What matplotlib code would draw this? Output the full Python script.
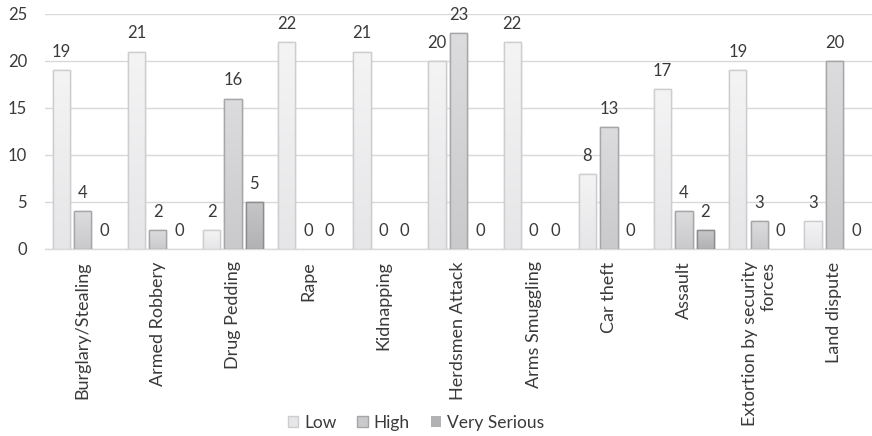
import numpy as np
import matplotlib
matplotlib.use("Agg")
import matplotlib.pyplot as plt
from matplotlib.colors import LinearSegmentedColormap

plt.rcParams['font.family'] = ['Lato', 'DejaVu Sans']

categories = ["Burglary/Stealing", "Armed Robbery", "Drug Pedding", "Rape", "Kidnapping",
              "Herdsmen Attack", "Arms Smuggling", "Car theft", "Assault",
              "Extortion by security\nforces", "Land dispute"]
low = [19, 21, 2, 22, 21, 20, 22, 8, 17, 19, 3]
high = [4, 2, 16, 0, 0, 23, 0, 13, 4, 3, 20]
very_serious = [0, 0, 5, 0, 0, 0, 0, 0, 2, 0, 0]
series_names = ["Low", "High", "Very Serious"]
y_ticks = [0, 5, 10, 15, 20, 25]

# fill (top, bottom) and edge colours per series
styles = [
    (("#f4f4f5", "#e6e6e8"), "#cdcdcf"),
    (("#dcdcde", "#cacacc"), "#a6a6a8"),
    (("#c6c6c8", "#b2b2b4"), "#8c8c8e"),
]
text_color = "#3a3a3a"

fig = plt.figure(figsize=(8.72, 4.36), dpi=100)
ax = fig.add_axes([0.0516, 0.429, 0.9484, 0.539])

x = np.arange(len(categories))
width = 0.23
step = 0.285

all_series = [low, high, very_serious]
handles = []
for i, (vals, name, ((c_top, c_bot), edge)) in enumerate(zip(all_series, series_names, styles)):
    pos = x + (i - 1) * step
    bars = ax.bar(pos, vals, width=width, color=c_bot, edgecolor=edge,
                  linewidth=1.0, zorder=3, label=name)
    cmap = LinearSegmentedColormap.from_list(name, [c_bot, c_top])
    grad = np.linspace(0, 1, 64).reshape(-1, 1)
    for b, v in zip(bars, vals):
        if v == 0:
            b.set_edgecolor('none')
            continue
        bx, by = b.get_x(), b.get_y()
        bw, bh = b.get_width(), b.get_height()
        im = ax.imshow(grad, cmap=cmap, origin='lower', aspect='auto',
                       extent=(bx, bx + bw, by, by + bh), zorder=3.5,
                       interpolation='bilinear')
        im.set_clip_path(b)
        ax.add_patch(plt.Rectangle((bx, by), bw, bh, fill=False, edgecolor=edge,
                                   linewidth=1.0, zorder=4))
    for p, v in zip(pos, vals):
        ax.annotate(str(v), (p, v), xytext=(0, 9.5), textcoords='offset points',
                    ha='center', va='baseline', fontsize=12, color=text_color, zorder=5)
    handles.append(bars)

ax.set_xticks(x)
ax.set_xticklabels(categories, rotation=90, fontsize=13, color=text_color,
                   multialignment='right')
ax.set_yticks(y_ticks)
ax.set_yticklabels([str(t) for t in y_ticks], fontsize=12, color=text_color)
ax.tick_params(axis='both', length=0)
ax.tick_params(axis='x', pad=9)
ax.tick_params(axis='y', pad=13)
ax.set_xlim(-0.5, len(categories) - 0.5)
ax.set_ylim(0, 25)

ax.grid(axis='y', color='#d9d9d9', linewidth=1.0, zorder=0)
ax.set_axisbelow(True)
for s in ['top', 'right', 'left']:
    ax.spines[s].set_visible(False)
ax.spines['bottom'].set_color('#d9d9d9')
ax.spines['bottom'].set_linewidth(1.0)

fig.legend(handles, series_names, loc='center', bbox_to_anchor=(0.477, 1 - 423 / 436),
           ncol=3, frameon=False, fontsize=12.5, handlelength=0.6, handleheight=0.6,
           handletextpad=0.35, columnspacing=1.2, labelcolor=text_color)

fig.savefig("out.png", dpi=100)
